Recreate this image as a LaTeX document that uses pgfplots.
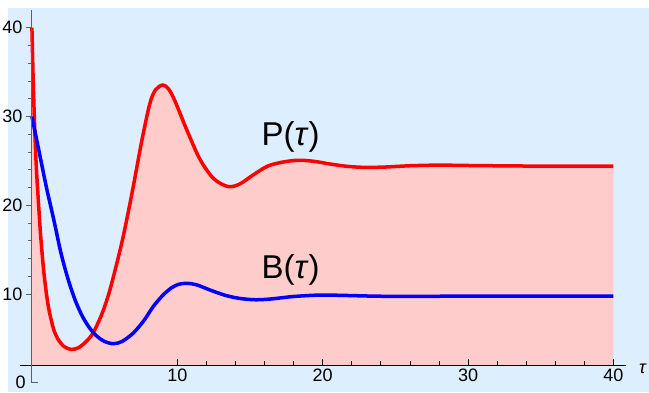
\documentclass[border=0pt]{standalone}
\usepackage{fontspec}
\setmainfont{Liberation Sans}
\usepackage{pgfplots}
\pgfplotsset{compat=1.18}
\usepackage{pgfplotstable}
\definecolor{bgblue}{RGB}{221,238,255}
\definecolor{pinkfill}{RGB}{255,204,204}
\definecolor{axgray}{RGB}{95,95,95}

\pgfplotstableread{
t P
0 40
0.05 36.5
0.1 33.3
0.2 28.3
0.3 24.4
0.45 20.3
0.6 16.6
0.8 12.8
1.0 10.0
1.2 8.0
1.5 6.0
1.8 4.9
2.2 4.1
2.7 3.75
3.2 3.95
3.7 4.6
4.2 5.6
4.8 7.7
5.37 10.5
6.2 15.9
6.9 21.5
7.55 27.2
8.1 31.4
8.5 33.0
9.0 33.55
9.4 33.1
9.85 31.7
10.65 28.5
11.55 25.2
12.5 23.0
13.5 22.1
14.3 22.4
15.2 23.4
16.2 24.4
17.2 24.85
18.3 25.07
19.4 24.95
20.5 24.65
21.6 24.4
22.8 24.27
24.2 24.3
26 24.45
28 24.52
30.5 24.47
34 24.42
37 24.4
40 24.4
}\Pdata

\pgfplotstableread{
t B
0 30
0.5 26
1 22
1.5 18.4
2 14.6
2.5 11.6
3 9.2
3.5 7.4
4 6.1
4.5 5.2
5 4.65
5.6 4.4
6.2 4.65
6.97 5.6
7.7 7.0
8.35 8.6
9 9.85
9.6 10.7
10.1 11.1
10.65 11.2
11.3 11.05
12.25 10.45
13.3 9.85
14.3 9.5
15.4 9.35
16.5 9.45
18 9.72
19.8 9.88
21.5 9.84
23.5 9.76
26 9.72
30 9.77
35 9.76
40 9.76
}\Bdata

\begin{document}
\begin{tikzpicture}
\useasboundingbox (-20pt,-27pt) rectangle (629pt,365pt);
\fill[white] (-20pt,-27pt) rectangle (629pt,365pt);
\fill[bgblue] (-12pt,-27pt) rectangle (629pt,357pt);
\begin{axis}[
  at={(0pt,0pt)}, anchor=south west,
  scale only axis, width=606pt, height=355pt,
  xmin=-0.82, xmax=40.86, ymin=2, ymax=42,
  axis on top,
  axis x line=bottom, axis y line=middle,
  x axis line style={-, black, line width=0.9pt},
  y axis line style={-, axgray, line width=1pt},
  xtick={10,20,30,40}, ytick={10,20,30,40},
  minor x tick num=4, minor y tick num=4,
  xtick align=inside, ytick align=outside,
  major tick length=6pt, minor tick length=4pt,
  x tick style={black, line width=0.8pt},
  y tick style={axgray, line width=0.8pt},
  ticklabel style={font=\fontsize{18}{20}\selectfont},
  /pgf/number format/assume math mode=true,
]
\addplot[draw=none, fill=pinkfill, smooth] table[x=t,y=P]{\Pdata} \closedcycle;
\addplot[red, line width=3.5pt, smooth] table[x=t,y=P]{\Pdata};
\addplot[blue, line width=3.5pt, smooth] table[x=t,y=B]{\Bdata};
\node[font=\fontsize{33}{36}\selectfont] at (axis cs:17.8,27.7) {P(\textit{τ})};
\node[font=\fontsize{33}{36}\selectfont] at (axis cs:17.8,12.7) {B(\textit{τ})};
\coordinate (o0) at (axis cs:0,0);
\coordinate (o2) at (axis cs:0,2);
\coordinate (tl) at (axis cs:40.86,2);
\end{axis}
\draw[axgray, line width=1pt] (o2) -- (o0);
\draw[axgray, line width=0.8pt] ([xshift=-0.5pt]o0) -- ++(6.5pt,0);
\node[anchor=east, inner sep=0pt, font=\fontsize{18}{20}\selectfont] at ([xshift=-6pt]o0) {0};
\node[anchor=base west, inner sep=0pt, font=\fontsize{18}{20}\selectfont] at ([xshift=13pt,yshift=-8pt]tl) {\textit{τ}};
\end{tikzpicture}
\end{document}
